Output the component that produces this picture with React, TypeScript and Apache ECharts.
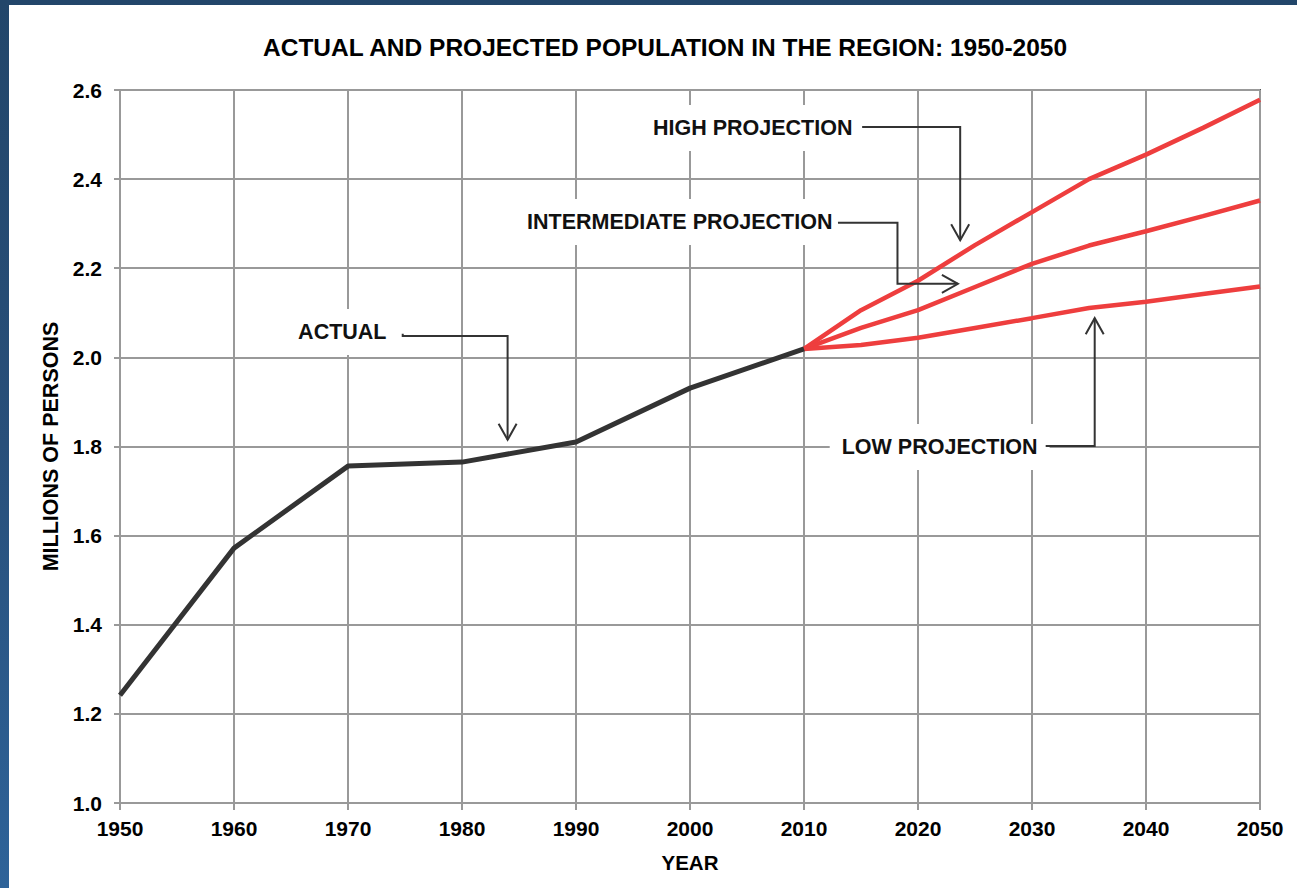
import React, { useEffect, useRef } from "react";
import * as echarts from "echarts";

const years = [1950, 1960, 1970, 1980, 1990, 2000, 2010];
const actual = [1.242, 1.572, 1.756, 1.765, 1.81, 1.931, 2.019];

const projYears = [2010, 2015, 2020, 2025, 2030, 2035, 2040, 2045, 2050];
const high = [2.019, 2.106, 2.172, 2.252, 2.326, 2.4, 2.455, 2.515, 2.578];
const intermediate = [2.019, 2.066, 2.106, 2.158, 2.21, 2.251, 2.283, 2.317, 2.352];
const low = [2.019, 2.028, 2.044, 2.066, 2.088, 2.111, 2.125, 2.142, 2.159];

const xTicks = [1950, 1960, 1970, 1980, 1990, 2000, 2010, 2020, 2030, 2040, 2050];
const yTicks = [1.0, 1.2, 1.4, 1.6, 1.8, 2.0, 2.2, 2.4, 2.6];

const labelText = ["ACTUAL", "HIGH PROJECTION", "INTERMEDIATE PROJECTION", "LOW PROJECTION"];
const labelPos = [
  [1969.5, 2.057],
  [2005.5, 2.515],
  [1999.1, 2.304],
  [2021.9, 1.799],
];
const connectors = [
  [[1974.8, 2.053], [1974.8, 2.048], [1984.0, 2.048], [1984.0, 1.815]],
  [[2015.1, 2.517], [2023.7, 2.517], [2023.7, 2.263]],
  [[2012.98, 2.302], [2018.2, 2.302], [2018.2, 2.165], [2023.5, 2.165]],
  [[2031.2, 1.801], [2035.5, 1.801], [2035.5, 2.088]],
];

const FONT = "'Liberation Sans', Arial, Helvetica, sans-serif";

export default function App() {
  const ref = useRef<HTMLDivElement>(null);
  useEffect(() => {
    document.body.style.margin = "0";
    const chart = echarts.init(ref.current!, null, { renderer: "svg" });
    const pair = (xs: number[], ys: number[]) => xs.map((x, i) => [x, ys[i]]);
    const redLine = (name: string, vals: number[]) => ({
      name,
      type: "line",
      data: pair(projYears, vals),
      showSymbol: false,
      lineStyle: { color: "#ee3e3e", width: 4.5 },
      z: 3,
    });
    chart.setOption({
      animation: false,
      backgroundColor: "#ffffff",
      title: {
        text: "ACTUAL AND PROJECTED POPULATION IN THE REGION: 1950-2050",
        left: 249,
        top: 25,
        textStyle: { fontFamily: FONT, fontWeight: "bold", fontSize: 24.5, color: "#000" },
      },
      grid: {
        left: 111,
        top: 85,
        right: 37,
        bottom: 85,
        show: true,
        borderColor: "#555",
        borderWidth: 2,
        backgroundColor: "transparent",
      },
      xAxis: {
        type: "value",
        min: 1950,
        max: 2050,
        interval: 10,
        name: "YEAR",
        nameLocation: "middle",
        nameGap: 49,
        nameTextStyle: { fontFamily: FONT, fontWeight: "bold", fontSize: 20.5, color: "#000" },
        axisLine: { show: true, lineStyle: { color: "#999", width: 2 } },
        axisTick: { show: true, length: 7, lineStyle: { color: "#999", width: 2 } },
        splitLine: { show: true, lineStyle: { color: "#999", width: 2 } },
        axisLabel: {
          fontFamily: FONT,
          fontWeight: "bold",
          fontSize: 21,
          color: "#000",
          margin: 15,
          showMaxLabel: true,
          showMinLabel: true,
          formatter: (v: number) => (xTicks.includes(v) ? String(v) : ""),
        },
      },
      yAxis: {
        type: "value",
        min: 1.0,
        max: 2.6,
        interval: 0.2,
        name: "MILLIONS OF PERSONS",
        nameLocation: "middle",
        nameGap: 57,
        nameTextStyle: { fontFamily: FONT, fontWeight: "bold", fontSize: 21.5, color: "#000" },
        axisLine: { show: true, lineStyle: { color: "#999", width: 2 } },
        axisTick: { show: true, length: 6, lineStyle: { color: "#999", width: 2 } },
        splitLine: { show: true, lineStyle: { color: "#999", width: 2 } },
        axisLabel: {
          fontFamily: FONT,
          fontWeight: "bold",
          fontSize: 21,
          color: "#000",
          margin: 18,
          formatter: (v: number) => {
            const t = yTicks.find((k) => Math.abs(k - v) < 1e-6);
            return t === undefined ? "" : t.toFixed(1);
          },
        },
      },
      series: [
        {
          name: "ACTUAL",
          type: "line",
          data: pair(years, actual),
          showSymbol: false,
          lineStyle: { color: "#333333", width: 5 },
          z: 4,
        },
        redLine("HIGH PROJECTION", high),
        redLine("INTERMEDIATE PROJECTION", intermediate),
        redLine("LOW PROJECTION", low),
      ],
    });

    const px = (p: number[]) => chart.convertToPixel({ gridIndex: 0 }, p) as number[];
    const graphics: any[] = [];
    labelText.forEach((t, i) => {
      const c = px(labelPos[i]);
      graphics.push({
        type: "text",
        x: c[0],
        y: c[1],
        z: 50,
        style: {
          text: t,
          fontFamily: FONT,
          fontWeight: "bold",
          fontSize: 21.5,
          fill: "#111",
          align: "center",
          verticalAlign: "middle",
          backgroundColor: "#ffffff",
          padding: [12, 12],
        },
      });
    });
    connectors.forEach((pts) => {
      const pp = pts.map(px);
      graphics.push({
        type: "polyline",
        z: 51,
        shape: { points: pp },
        style: { stroke: "#333", lineWidth: 2, fill: null },
      });
      const tip = pp[pp.length - 1];
      const prev = pp[pp.length - 2];
      const dx = tip[0] - prev[0];
      const dy = tip[1] - prev[1];
      const len = Math.hypot(dx, dy) || 1;
      const ux = dx / len;
      const uy = dy / len;
      const back = 16;
      const side = 9;
      const a = [tip[0] - ux * back - uy * side, tip[1] - uy * back + ux * side];
      const b = [tip[0] - ux * back + uy * side, tip[1] - uy * back - ux * side];
      graphics.push({
        type: "polyline",
        z: 51,
        shape: { points: [a, tip, b] },
        style: { stroke: "#333", lineWidth: 2, fill: null },
      });
    });
    chart.setOption({ graphic: graphics });

    return () => chart.dispose();
  }, []);

  return (
    <div
      style={{
        position: "fixed",
        left: 0,
        top: 0,
        width: 1297,
        height: 888,
        background: "linear-gradient(to bottom, #22466a 0%, #284f7a 50%, #2e6399 100%)",
      }}
    >
      <div
        style={{
          position: "absolute",
          left: 9,
          top: 5,
          width: 1288,
          height: 883,
          background: "#ffffff",
        }}
      >
        <div ref={ref} style={{ width: 1288, height: 883 }} />
      </div>
    </div>
  );
}
